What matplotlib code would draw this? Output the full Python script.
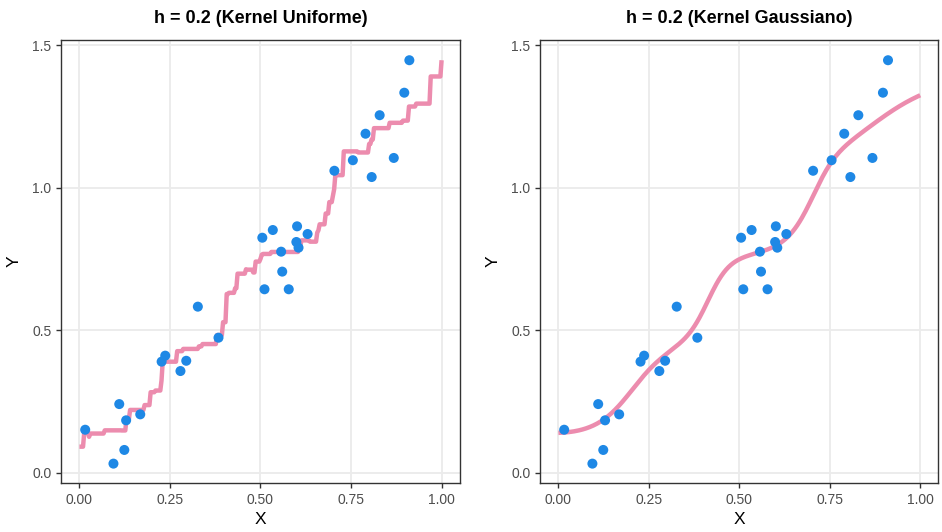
import numpy as np
import matplotlib
matplotlib.use("Agg")
import matplotlib.pyplot as plt

plt.rcParams['font.family'] = ['Liberation Sans', 'DejaVu Sans']

# observed sample
x_obs = [0.016, 0.094, 0.124, 0.110, 0.129, 0.168, 0.227, 0.237, 0.279, 0.295,
         0.327, 0.384, 0.511, 0.560, 0.578, 0.505, 0.534, 0.557, 0.601, 0.599,
         0.605, 0.630, 0.704, 0.755, 0.807, 0.790, 0.829, 0.868, 0.897, 0.911]
y_obs = [0.151, 0.032, 0.080, 0.241, 0.184, 0.205, 0.390, 0.411, 0.357, 0.393,
         0.583, 0.474, 0.644, 0.706, 0.644, 0.825, 0.852, 0.776, 0.865, 0.810,
         0.790, 0.838, 1.060, 1.097, 1.038, 1.190, 1.255, 1.105, 1.334, 1.448]

bandwidth = 0.2
kernels = ["box", "normal"]
titles = ["h = 0.2 (Kernel Uniforme)", "h = 0.2 (Kernel Gaussiano)"]
x_ticks = [0.0, 0.25, 0.5, 0.75, 1.0]
x_ticklabels = ["0.00", "0.25", "0.50", "0.75", "1.00"]
y_ticks = [0.0, 0.5, 1.0, 1.5]
y_ticklabels = ["0.0", "0.5", "1.0", "1.5"]


def ksmooth(x, y, grid, kernel, bw):
    # Nadaraya-Watson estimate, same scaling as R's ksmooth()
    x = np.asarray(x)
    y = np.asarray(y)
    d = grid[:, None] - x[None, :]
    if kernel == "box":
        w = (np.abs(d) < 0.5 * bw).astype(float)
    else:
        s = 0.3706506 * bw
        w = np.exp(-0.5 * (d / s) ** 2)
    return (w * y).sum(axis=1) / w.sum(axis=1)


grid = np.linspace(0, 1, 301)

fig = plt.figure(figsize=(9.42, 5.32), dpi=100)
W, H = 942, 532
boxes = [(61.3, 40, 459.7, 483), (540.3, 40, 938.3, 483)]

for (l, t, r, b), kern, title in zip(boxes, kernels, titles):
    ax = fig.add_axes([l / W, 1 - b / H, (r - l) / W, (b - t) / H])
    fit = ksmooth(x_obs, y_obs, grid, kern, bandwidth)
    ax.plot(grid, fit, color='#EC8CAE', lw=3.2, zorder=2, solid_capstyle='butt')
    ax.scatter(x_obs, y_obs, s=52, color='#1E88E5', edgecolors='none', zorder=3)

    ax.set_xlim(-0.05, 1.05)
    ax.set_ylim(-0.036, 1.519)
    ax.set_xticks(x_ticks)
    ax.set_xticklabels(x_ticklabels)
    ax.set_yticks(y_ticks)
    ax.set_yticklabels(y_ticklabels)
    ax.grid(True, color='#EBEBEB', lw=1.3, zorder=0)
    ax.set_axisbelow(True)
    for sp in ax.spines.values():
        sp.set_color('#333333')
        sp.set_linewidth(1.0)
    ax.tick_params(colors='#333333', labelcolor='#4D4D4D', labelsize=10,
                   length=3.5, width=1.0)
    ax.set_xlabel("X", fontsize=12.5, labelpad=4)
    ax.set_ylabel("Y", fontsize=12.5, labelpad=8)
    ax.set_title(title, fontsize=13, fontweight='bold', pad=12)

fig.savefig("out.png", dpi=100)
